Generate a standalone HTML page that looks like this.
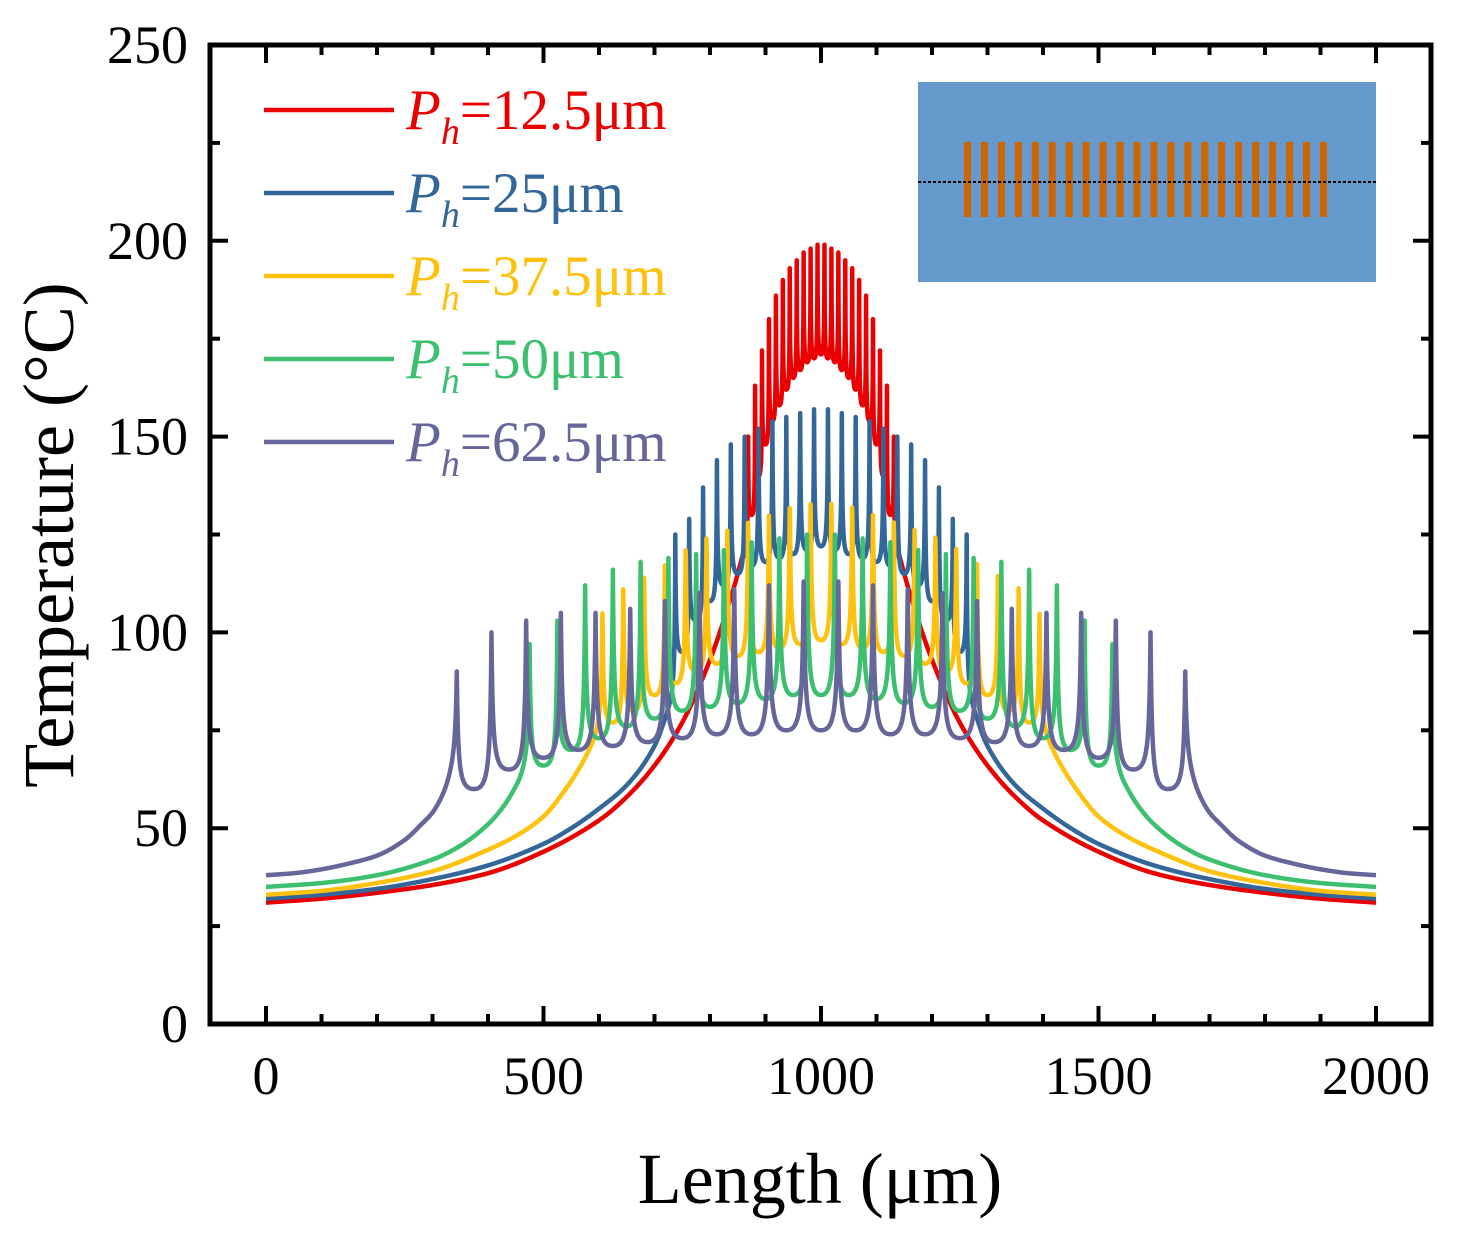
<!DOCTYPE html>
<html><head><meta charset="utf-8"><style>
body{margin:0;background:#fff;}
svg{display:block;font-family:"Liberation Serif",serif;}
</style></head><body>
<svg id="chart" width="1471" height="1235" viewBox="0 0 1471 1235">
<g id="plot"></g>
<rect x="210" y="45" width="1221" height="979" fill="none" stroke="#000" stroke-width="5"/>
<g id="axes"></g>
<text x="820" y="1203" font-size="72" text-anchor="middle">Length (μm)</text>
<text transform="translate(73,535) rotate(-90)" font-size="72" text-anchor="middle">Temperature (°C)</text>
<g id="legend"></g>
<g>
<rect x="918" y="82" width="458" height="200" fill="#6699cc"/>
<g id="bars"></g>
<line x1="918" y1="182" x2="1376" y2="182" stroke="#000" stroke-width="2" stroke-dasharray="3,2"/>
</g>
</svg>
<script>
const seriesNames=["62.5","50","37.5","25","12.5"];
const pitches=[62.5,50,37.5,25,12.5];
const colors=["#66669a","#3cc070","#fec20e","#336699","#ea0000"];
// peaks and valleys from outermost heater to center (symmetric, 11 per half)
const peaks62=[90,100,103,105,105,106,108,110,111,112,113];
const valleys62=[60,65,68,70,71,72,73,74,74,75,75];
const peaks50=[97,103,112,116,118,119,120,121,123,124,125];
const valleys50=[66,70,73,76,78,80,81,82,83,84,84];
const peaks37=[108,115,118,121,125,128,130,132,134,136,137];
const valleys37=[77,80,84,87,90,92,94,95,96,97,98];
const peaks25=[125,129,137,144,148,150,152,154,155,156,157];
const valleys25=[95,103,108,112,115,117,118,119,120,121,122];
const peaks12=[150,163,172,180,186,190,193,195,197,198,199];
const valleys12=[130,140,148,154,158,162,165,167,169,170,171];
// left tails: x positions (µm) and temperatures up to the outermost heater
const tailX62=[0,50,100,150,200,250,280,300,320,335,345];
const tailT62=[38,38.5,39.5,41,43,47,51,54,59,64,68];
const tailX50=[0,100,200,300,350,400,430,455,476];
const tailT50=[35,36,38,42,45.5,51,56,62,68];
const tailX37=[0,100,200,300,400,450,500,540,575,606];
const tailT37=[33,34,36,39,44.5,48,53,60,68,78];
const tailX25=[0,100,200,300,400,500,550,600,650,700,737];
const tailT25=[32,33,34.5,37,40.5,46,50,55,61,71,86];
const tailX12=[0,100,200,300,400,500,600,650,700,750,800,840,869];
const tailT12=[31,32,33.5,35.5,38.5,44,52,58,66,77,93,110,125];
const peaksAll=[peaks62,peaks50,peaks37,peaks25,peaks12];
const valleysAll=[valleys62,valleys50,valleys37,valleys25,valleys12];
const tailXAll=[tailX62,tailX50,tailX37,tailX25,tailX12];
const tailTAll=[tailT62,tailT50,tailT37,tailT25,tailT12];
const xTicks=[0,500,1000,1500,2000];
const yTicks=[0,50,100,150,200,250];

const NS="http://www.w3.org/2000/svg";
const X0=266,XS=555/1000,Y0=1024,YS=979/250;
const sx=v=>X0+v*XS, sy=v=>Y0-v*YS;
function mk(tag,attrs,parent){const e=document.createElementNS(NS,tag);for(const k in attrs)e.setAttribute(k,attrs[k]);parent.appendChild(e);return e;}
const g=u=>Math.pow(Math.max(0,1-u),2)/(1+12*u);
function interp(xs,ts,x){
  const n=xs.length;if(x<=xs[0])return ts[0];if(x>=xs[n-1])return ts[n-1];
  const d=[],m=[];for(let i=0;i<n-1;i++)d.push((ts[i+1]-ts[i])/(xs[i+1]-xs[i]));
  m.push(d[0]);for(let i=1;i<n-1;i++)m.push(d[i-1]*d[i]<=0?0:2/(1/d[i-1]+1/d[i]));m.push(d[n-2]);
  let i=0;while(x>xs[i+1])i++;
  const h=xs[i+1]-xs[i],t=(x-xs[i])/h;
  const h00=2*t*t*t-3*t*t+1,h10=t*t*t-2*t*t+t,h01=-2*t*t*t+3*t*t,h11=t*t*t-t*t;
  return h00*ts[i]+h10*h*m[i]+h01*ts[i+1]+h11*h*m[i+1];
}
const plot=document.getElementById('plot');
for(let s=0;s<5;s++){
  const P=pitches[s],pk=peaksAll[s],vl=valleysAll[s],tx=tailXAll[s],tt=tailTAll[s];
  const N=22,h=[];for(let i=0;i<N;i++)h.push(1000+(i-(N-1)/2)*P);
  const hl=h.slice(0,11);
  const temp=x=>{
    const xl=x<=1000?x:2000-x;
    if(xl<=hl[0]){const base=interp(tx,tt,xl);const d=hl[0]-xl;return base+(pk[0]-base)*g(d/(P/2));}
    let k=0;for(let i=0;i<11;i++)if(hl[i]<=xl)k=i;
    const k2=Math.min(k+1,10);
    const d1=xl-hl[k],d2=(k2>k)?hl[k2]-xl:P-d1;
    const v=vl[k];
    return v+(pk[k]-v)*g(d1/(P/2))+(pk[k2]-v)*g(d2/(P/2));
  };
  const pts=[];const step=Math.min(P/80,1);
  for(let x=0;x<=2000+1e-6;x+=step){pts.push(sx(x).toFixed(2)+","+sy(temp(x)).toFixed(2));}
  const el=mk('polyline',{points:pts.join(" "),fill:"none",stroke:colors[s],"stroke-width":4.5,"stroke-linejoin":"round"},plot);
  
  
}
const lines=[...plot.children];lines.reverse().forEach(l=>plot.appendChild(l));
const ax=document.getElementById('axes');
for(let v=0;v<=2000;v+=100){const x=sx(v),L=(v%500===0)?18:10;
  mk('line',{x1:x,y1:1024,x2:x,y2:1024-L,stroke:"#000","stroke-width":4},ax);
  mk('line',{x1:x,y1:45,x2:x,y2:45+L,stroke:"#000","stroke-width":4},ax);}
for(let v=0;v<=250;v+=25){const y=sy(v),L=(v%50===0)?18:10;
  mk('line',{x1:210,y1:y,x2:210+L,y2:y,stroke:"#000","stroke-width":4},ax);
  mk('line',{x1:1431,y1:y,x2:1431-L,y2:y,stroke:"#000","stroke-width":4},ax);}
xTicks.forEach(v=>{const t=mk('text',{x:sx(v),y:1094,"font-size":54,"text-anchor":"middle"},ax);t.textContent=v;
  
  });
yTicks.forEach(v=>{const t=mk('text',{x:188,y:sy(v)+18,"font-size":54,"text-anchor":"end"},ax);t.textContent=v;
  
  });
const lg=document.getElementById('legend');
const legY=[110,193,276,359,442];
for(let i=0;i<5;i++){const s=4-i;const c=colors[s];
  const gg=mk('g',{},lg);
  
  
  mk('line',{x1:264,y1:legY[i],x2:394,y2:legY[i],stroke:c,"stroke-width":4.5},gg);
  const t=mk('text',{x:406,y:legY[i]+19,"font-size":57,fill:c},gg);
  t.innerHTML='<tspan font-style="italic">P</tspan><tspan font-style="italic" font-size="38" dy="15">h</tspan><tspan dy="-15">=' + seriesNames[s] + 'μm</tspan>';
}
const bars=document.getElementById('bars');
for(let i=0;i<22;i++){const r=mk('rect',{x:964+i*16.95,y:142,width:7,height:75,fill:"#cc6600"},bars);
  
  }
</script>
</body></html>
